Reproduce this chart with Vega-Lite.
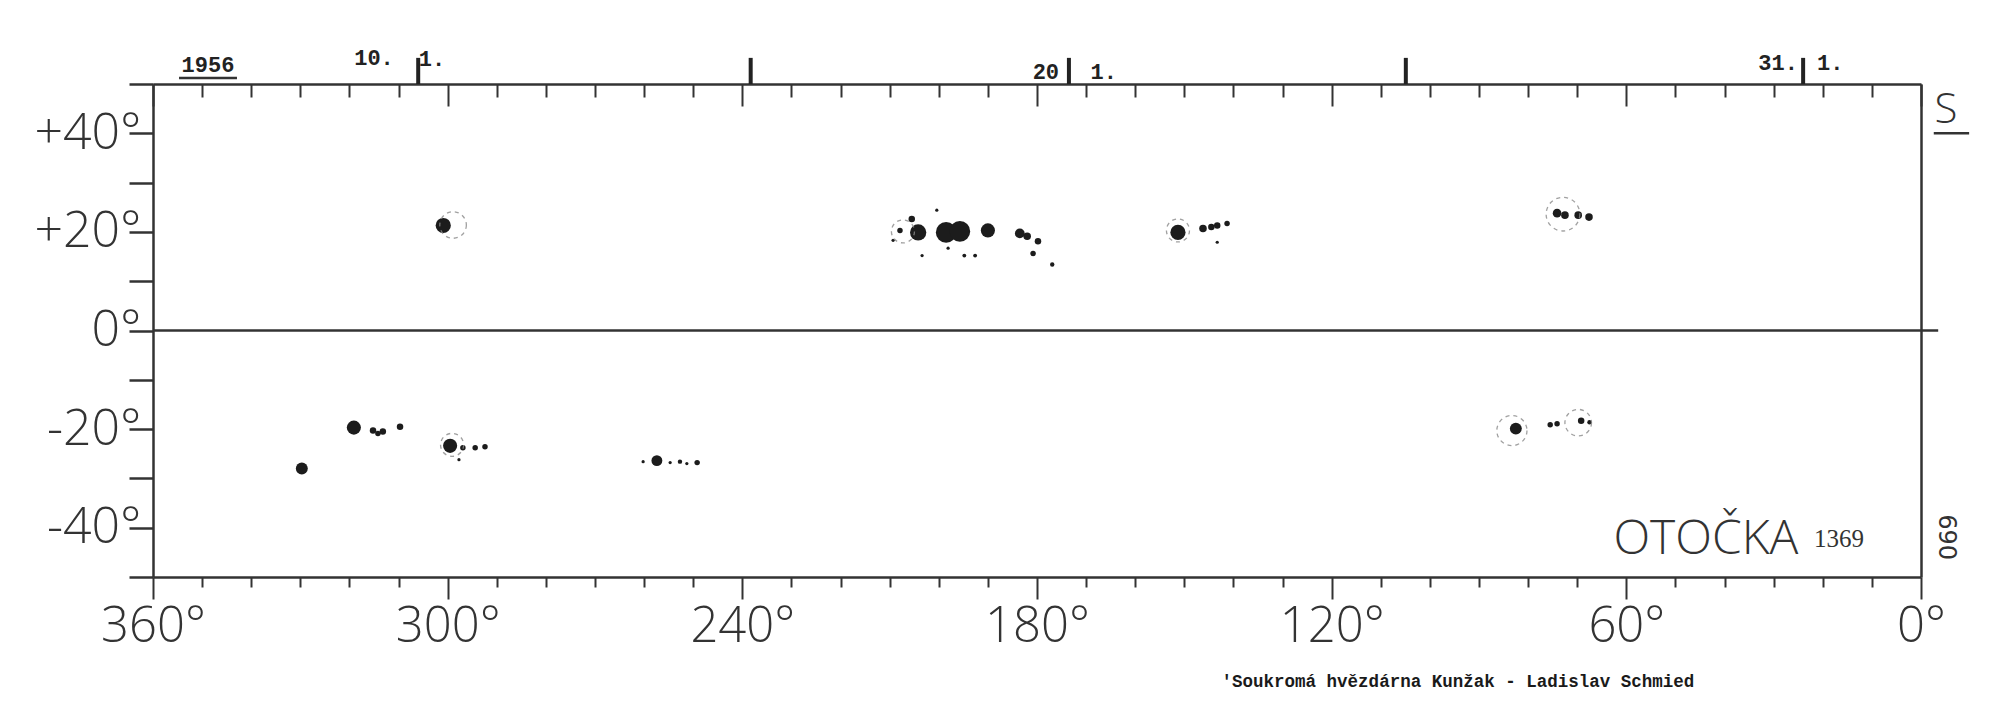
{
  "$schema": "https://vega.github.io/schema/vega-lite/v6.json",
  "autosize": {"type": "none"},
  "width": 1768,
  "height": 493,
  "padding": {"left": 153, "top": 84, "right": 79, "bottom": 134},
  "background": "white",
  "config": {"view": {"stroke": null}},
  "datasets": {
    "spots": [
      {"group": "A", "lon": 300.9, "lat": 21.3, "area": 154},
      {"group": "B", "lon": 205.5, "lat": 22.6, "area": 28},
      {"group": "B", "lon": 204.2, "lat": 19.9, "area": 177},
      {"group": "B", "lon": 207.9, "lat": 20.3, "area": 20},
      {"group": "B", "lon": 209.3, "lat": 18.3, "area": 7},
      {"group": "B", "lon": 198.5, "lat": 19.9, "area": 283},
      {"group": "B", "lon": 195.7, "lat": 20.1, "area": 283},
      {"group": "B", "lon": 190.0, "lat": 20.3, "area": 133},
      {"group": "B", "lon": 200.4, "lat": 24.4, "area": 7},
      {"group": "B", "lon": 203.4, "lat": 15.2, "area": 7},
      {"group": "B", "lon": 198.1, "lat": 16.7, "area": 7},
      {"group": "B", "lon": 194.8, "lat": 15.2, "area": 10},
      {"group": "B", "lon": 192.6, "lat": 15.2, "area": 10},
      {"group": "B", "lon": 183.5, "lat": 19.7, "area": 64},
      {"group": "B", "lon": 182.0, "lat": 19.1, "area": 38},
      {"group": "B", "lon": 179.8, "lat": 18.1, "area": 28},
      {"group": "B", "lon": 180.8, "lat": 15.6, "area": 20},
      {"group": "B", "lon": 176.9, "lat": 13.4, "area": 13},
      {"group": "C", "lon": 151.3, "lat": 19.9, "area": 154},
      {"group": "C", "lon": 146.2, "lat": 20.7, "area": 38},
      {"group": "C", "lon": 144.5, "lat": 21.0, "area": 28},
      {"group": "C", "lon": 143.3, "lat": 21.3, "area": 28},
      {"group": "C", "lon": 141.3, "lat": 21.7, "area": 20},
      {"group": "C", "lon": 143.3, "lat": 17.9, "area": 7},
      {"group": "D", "lon": 74.1, "lat": 23.8, "area": 50},
      {"group": "D", "lon": 72.5, "lat": 23.4, "area": 38},
      {"group": "D", "lon": 69.8, "lat": 23.4, "area": 38},
      {"group": "D", "lon": 67.6, "lat": 23.0, "area": 38},
      {"group": "E", "lon": 329.7, "lat": -28.0, "area": 95},
      {"group": "E", "lon": 319.1, "lat": -19.7, "area": 133},
      {"group": "E", "lon": 315.2, "lat": -20.3, "area": 28},
      {"group": "E", "lon": 313.2, "lat": -20.5, "area": 28},
      {"group": "E", "lon": 314.2, "lat": -20.9, "area": 20},
      {"group": "E", "lon": 309.7, "lat": -19.5, "area": 28},
      {"group": "F", "lon": 299.5, "lat": -23.4, "area": 133},
      {"group": "F", "lon": 296.9, "lat": -23.8, "area": 20},
      {"group": "F", "lon": 294.4, "lat": -23.8, "area": 20},
      {"group": "F", "lon": 292.4, "lat": -23.6, "area": 20},
      {"group": "F", "lon": 297.7, "lat": -26.2, "area": 7},
      {"group": "G", "lon": 257.4, "lat": -26.4, "area": 79},
      {"group": "G", "lon": 260.2, "lat": -26.6, "area": 7},
      {"group": "G", "lon": 254.7, "lat": -26.8, "area": 7},
      {"group": "G", "lon": 252.7, "lat": -26.6, "area": 13},
      {"group": "G", "lon": 251.3, "lat": -27.0, "area": 7},
      {"group": "G", "lon": 249.2, "lat": -26.8, "area": 20},
      {"group": "H", "lon": 82.5, "lat": -19.9, "area": 95},
      {"group": "H", "lon": 75.5, "lat": -19.1, "area": 20},
      {"group": "H", "lon": 74.1, "lat": -18.9, "area": 20},
      {"group": "H", "lon": 69.2, "lat": -18.3, "area": 28},
      {"group": "H", "lon": 67.5, "lat": -18.6, "area": 13}
    ],
    "penumbrae": [
      {"group": "A", "lon": 298.9, "lat": 21.4, "area": 471},
      {"group": "B", "lon": 207.3, "lat": 20.1, "area": 354},
      {"group": "C", "lon": 151.3, "lat": 20.3, "area": 354},
      {"group": "D", "lon": 72.9, "lat": 23.6, "area": 756},
      {"group": "F", "lon": 299.1, "lat": -23.2, "area": 354},
      {"group": "H", "lon": 83.3, "lat": -20.3, "area": 605},
      {"group": "H", "lon": 69.8, "lat": -18.7, "area": 471}
    ],
    "dates": [
      {"date": "10. 1.", "lon": 306},
      {"date": "15. 1.", "lon": 238.3},
      {"date": "20. 1.", "lon": 173.5},
      {"date": "25. 1.", "lon": 104.9},
      {"date": "31. 1.", "lon": 24}
    ],
    "notes": [
      {"text": "1956", "lon": 348.8, "lat": 53.9, "role": "year"},
      {"text": "10.", "lon": 315, "lat": 55.3, "role": "date"},
      {"text": "1.", "lon": 303.2, "lat": 55.0, "role": "date"},
      {"text": "20", "lon": 178.2, "lat": 52.4, "role": "date"},
      {"text": "1.", "lon": 166.4, "lat": 52.4, "role": "date"},
      {"text": "31.", "lon": 29.1, "lat": 54.3, "role": "date"},
      {"text": "1.", "lon": 18.5, "lat": 54.3, "role": "date"},
      {"text": "S", "lon": -5.1, "lat": 44.7, "role": "side"},
      {"text": "OTOČKA", "lon": 43.8, "lat": -45.3, "role": "title"},
      {"text": "1369", "lon": 16.7, "lat": -43.9, "role": "number"},
      {"text": "690", "lon": -5.1, "lat": -41.9, "role": "page"},
      {"text": "'Soukromá hvězdárna Kunžak - Ladislav Schmied", "lon": 94.3, "lat": -71.3, "role": "credit"}
    ],
    "lines": [
      {"what": "equator", "lon1": 360, "lon2": -3.5, "lat": 0},
      {"what": "1956", "lon1": 354.7, "lon2": 342.9, "lat": 51.2},
      {"what": "S", "lon1": -2.6, "lon2": -9.8, "lat": 40.0}
    ]
  },
  "resolve": {"axis": {"x": "independent", "y": "independent"}},
  "layer": [
    {
      "data": {"name": "spots"},
      "mark": {"type": "point", "shape": "circle", "filled": true, "color": "#1c1c1c", "opacity": 1},
      "encoding": {
        "x": {"field": "lon", "type": "quantitative",
          "scale": {"domain": [0, 360], "reverse": true, "nice": false, "zero": false},
          "axis": {"orient": "bottom", "title": null, "grid": false,
            "values": [0,10,20,30,40,50,60,70,80,90,100,110,120,130,140,150,160,170,180,190,200,210,220,230,240,250,260,270,280,290,300,310,320,330,340,350,360],
            "labelExpr": "datum.value % 60 === 0 ? datum.value + '°' : ''",
            "tickSize": {"condition": {"test": "datum.value % 60 === 0", "value": 22}, "value": 10},
            "tickWidth": 2, "tickColor": "#333", "domainColor": "#333", "domainWidth": 2.5,
            "labelFont": "Open Sans", "labelFontWeight": 300, "labelFontSize": 49, "labelColor": "#333",
            "labelPadding": 3, "labelFlush": false, "labelOverlap": false, "labelBound": false}},
        "y": {"field": "lat", "type": "quantitative",
          "scale": {"domain": [-50, 50], "nice": false, "zero": false},
          "axis": {"orient": "left", "title": null, "grid": false,
            "values": [-50,-40,-30,-20,-10,0,10,20,30,40,50],
            "labelExpr": "datum.value % 20 === 0 && abs(datum.value) < 50 ? (datum.value > 0 ? '+' : '') + datum.value + '°' : ''",
            "tickSize": 24, "tickWidth": 2.5, "tickColor": "#333", "domainColor": "#333", "domainWidth": 2.5,
            "labelFont": "Open Sans", "labelFontWeight": 300, "labelFontSize": 50, "labelColor": "#333",
            "labelPadding": -12, "labelOverlap": false, "labelBound": false, "labelFlush": false}},
        "size": {"field": "area", "type": "quantitative", "legend": null,
          "scale": {"domain": [0, 1000], "range": [0, 1500]}}
      }
    },
    {
      "data": {"name": "lines"},
      "mark": {"type": "rule", "color": "#333", "strokeWidth": 2.5},
      "encoding": {
        "x": {"field": "lon1", "type": "quantitative",
          "scale": {"domain": [0, 360], "reverse": true, "nice": false, "zero": false},
          "axis": {"orient": "top", "title": null, "grid": false, "labels": false,
            "values": [0,10,20,30,40,50,60,70,80,90,100,110,120,130,140,150,160,170,180,190,200,210,220,230,240,250,260,270,280,290,300,310,320,330,340,350,360],
            "tickSize": {"condition": {"test": "datum.value % 60 === 0", "value": -22}, "value": -13},
            "tickWidth": 2, "tickColor": "#333", "domainColor": "#333", "domainWidth": 2.5}},
        "x2": {"field": "lon2"},
        "y": {"field": "lat", "type": "quantitative",
          "scale": {"domain": [-50, 50], "nice": false, "zero": false},
          "axis": {"orient": "right", "title": null, "grid": false, "labels": false, "ticks": false,
            "values": [0], "domainColor": "#333", "domainWidth": 2.5}}
      }
    },
    {
      "data": {"name": "penumbrae"},
      "mark": {"type": "point", "shape": "circle", "filled": false, "color": "#8a8a8a", "strokeWidth": 1.3, "strokeDash": [4, 4], "opacity": 0.8},
      "encoding": {
        "x": {"field": "lon", "type": "quantitative", "scale": {"domain": [0, 360], "reverse": true, "nice": false, "zero": false}, "axis": null},
        "y": {"field": "lat", "type": "quantitative", "scale": {"domain": [-50, 50], "nice": false, "zero": false}, "axis": null},
        "size": {"field": "area", "type": "quantitative", "legend": null, "scale": {"domain": [0, 1000], "range": [0, 1500]}}
      }
    },
    {
      "data": {"name": "dates"},
      "mark": {"type": "rule", "color": "#222", "strokeWidth": 4},
      "encoding": {
        "x": {"field": "lon", "type": "quantitative", "scale": {"domain": [0, 360], "reverse": true, "nice": false, "zero": false}, "axis": null},
        "y": {"datum": 50, "type": "quantitative", "scale": {"domain": [-50, 50], "nice": false, "zero": false}, "axis": null},
        "y2": {"datum": 55.3}
      }
    },
    {
      "data": {"name": "notes"},
      "transform": [{"filter": "datum.role === 'date' || datum.role === 'year'"}],
      "mark": {"type": "text", "font": "Liberation Mono", "fontWeight": "bold", "fontSize": 22, "color": "#222", "baseline": "middle", "align": "center"},
      "encoding": {
        "x": {"field": "lon", "type": "quantitative", "scale": {"domain": [0, 360], "reverse": true, "nice": false, "zero": false}, "axis": null},
        "y": {"field": "lat", "type": "quantitative", "scale": {"domain": [-50, 50], "nice": false, "zero": false}, "axis": null},
        "text": {"field": "text"}
      }
    },
    {
      "data": {"name": "notes"},
      "transform": [{"filter": "datum.role === 'side'"}],
      "mark": {"type": "text", "font": "Open Sans", "fontWeight": 300, "fontSize": 42, "color": "#333", "baseline": "middle", "align": "center"},
      "encoding": {
        "x": {"field": "lon", "type": "quantitative", "scale": {"domain": [0, 360], "reverse": true, "nice": false, "zero": false}, "axis": null},
        "y": {"field": "lat", "type": "quantitative", "scale": {"domain": [-50, 50], "nice": false, "zero": false}, "axis": null},
        "text": {"field": "text"}
      }
    },
    {
      "data": {"name": "notes"},
      "transform": [{"filter": "datum.role === 'title'"}],
      "mark": {"type": "text", "font": "Open Sans", "fontWeight": 300, "fontSize": 48, "color": "#333", "baseline": "alphabetic", "align": "center"},
      "encoding": {
        "x": {"field": "lon", "type": "quantitative", "scale": {"domain": [0, 360], "reverse": true, "nice": false, "zero": false}, "axis": null},
        "y": {"field": "lat", "type": "quantitative", "scale": {"domain": [-50, 50], "nice": false, "zero": false}, "axis": null},
        "text": {"field": "text"}
      }
    },
    {
      "data": {"name": "notes"},
      "transform": [{"filter": "datum.role === 'number'"}],
      "mark": {"type": "text", "font": "Liberation Serif", "fontSize": 25, "color": "#333", "baseline": "alphabetic", "align": "center"},
      "encoding": {
        "x": {"field": "lon", "type": "quantitative", "scale": {"domain": [0, 360], "reverse": true, "nice": false, "zero": false}, "axis": null},
        "y": {"field": "lat", "type": "quantitative", "scale": {"domain": [-50, 50], "nice": false, "zero": false}, "axis": null},
        "text": {"field": "text"}
      }
    },
    {
      "data": {"name": "notes"},
      "transform": [{"filter": "datum.role === 'page'"}],
      "mark": {"type": "text", "font": "DejaVu Sans", "fontSize": 24, "color": "#333", "baseline": "middle", "align": "center", "angle": 90},
      "encoding": {
        "x": {"field": "lon", "type": "quantitative", "scale": {"domain": [0, 360], "reverse": true, "nice": false, "zero": false}, "axis": null},
        "y": {"field": "lat", "type": "quantitative", "scale": {"domain": [-50, 50], "nice": false, "zero": false}, "axis": null},
        "text": {"field": "text"}
      }
    },
    {
      "data": {"name": "notes"},
      "transform": [{"filter": "datum.role === 'credit'"}],
      "mark": {"type": "text", "font": "Liberation Mono", "fontWeight": "bold", "fontSize": 17.5, "color": "#1a1a1a", "baseline": "middle", "align": "center"},
      "encoding": {
        "x": {"field": "lon", "type": "quantitative", "scale": {"domain": [0, 360], "reverse": true, "nice": false, "zero": false}, "axis": null},
        "y": {"field": "lat", "type": "quantitative", "scale": {"domain": [-50, 50], "nice": false, "zero": false}, "axis": null},
        "text": {"field": "text"}
      }
    }
  ]
}
